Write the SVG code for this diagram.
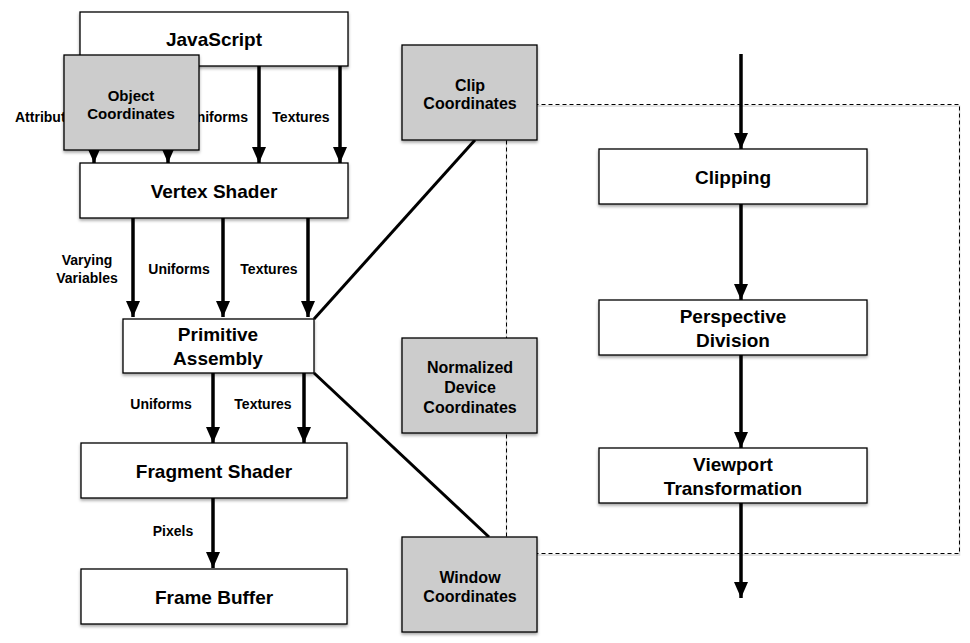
<svg xmlns="http://www.w3.org/2000/svg" width="970" height="643" viewBox="0 0 970 643">
<defs>
<filter id="sh" x="-10%" y="-10%" width="120%" height="130%">
<feDropShadow dx="0" dy="2" stdDeviation="1.5" flood-color="#000" flood-opacity="0.35"/>
</filter>
<marker id="ah" markerUnits="userSpaceOnUse" markerWidth="17" markerHeight="15" refX="16" refY="7" orient="auto">
<path d="M0,0 L16,7 L0,14 z" fill="#000"/>
</marker>
</defs>
<style>
text{font-family:"Liberation Sans",Arial,sans-serif;font-weight:bold;fill:#000;text-anchor:middle;dominant-baseline:central}
.box{fill:#fff;stroke:#000;stroke-width:1.3;filter:url(#sh)}
.gray{fill:#cccccc;stroke:#000;stroke-width:1.3;filter:url(#sh)}
.t{font-size:19px}
.g{font-size:16px}
.l{font-size:14px}
.ar{stroke:#000;stroke-width:3.5;fill:none;marker-end:url(#ah)}
.ln{stroke:#000;stroke-width:3;fill:none}
.dash{fill:none;stroke:#000;stroke-width:1;stroke-dasharray:4,3}
</style>
<rect class="dash" x="506.5" y="104.5" width="453" height="449" style="stroke:#999;stroke-width:1.5;stroke-dasharray:none;opacity:0.35" transform="translate(0,1.5)"/>
<rect class="dash" x="506.5" y="104.5" width="453" height="449"/>
<g id="javascript"><rect class="box" x="80" y="12" width="268" height="54"/><text class="t" x="214" y="39">JavaScript</text></g>
<g id="connectors">
<line class="ar" x1="94" y1="66" x2="94" y2="163"/>
<line class="ar" x1="168" y1="66" x2="168" y2="163"/>
<line class="ar" x1="259" y1="66" x2="259" y2="163"/>
<line class="ar" x1="340" y1="66" x2="340" y2="163"/>
<line class="ar" x1="133" y1="218" x2="133" y2="317"/>
<line class="ar" x1="223" y1="218" x2="223" y2="317"/>
<line class="ar" x1="308" y1="218" x2="308" y2="317"/>
<line class="ar" x1="213" y1="373" x2="213" y2="443"/>
<line class="ar" x1="304" y1="373" x2="304" y2="443"/>
<line class="ar" x1="213" y1="498" x2="213" y2="568"/>
<line class="ln" x1="314" y1="319" x2="475" y2="140"/>
<line class="ln" x1="314" y1="373" x2="489" y2="537"/>
<line class="ar" x1="741" y1="54" x2="741" y2="149"/>
<line class="ar" x1="741" y1="204" x2="741" y2="300"/>
<line class="ar" x1="741" y1="355" x2="741" y2="448"/>
<line class="ar" x1="741" y1="503" x2="741" y2="598"/>
<text class="l" x="15" y="117" style="text-anchor:start">Attributes</text>
<text class="l" x="248" y="117" style="text-anchor:end">Uniforms</text>
<text class="l" x="301" y="117">Textures</text>
<text class="l" x="87" y="260">Varying</text>
<text class="l" x="87" y="278">Variables</text>
<text class="l" x="179" y="269">Uniforms</text>
<text class="l" x="269" y="269">Textures</text>
<text class="l" x="161" y="404">Uniforms</text>
<text class="l" x="263" y="404">Textures</text>
<text class="l" x="173" y="531">Pixels</text>
</g>
<g id="object-coordinates"><rect class="gray" x="64" y="55" width="135" height="95"/><text class="l" style="font-size:15px" x="131" y="95">Object</text><text class="l" style="font-size:15px" x="131" y="113">Coordinates</text></g>
<g id="vertex-shader"><rect class="box" x="80" y="163" width="268" height="55"/><text class="t" x="214" y="191">Vertex Shader</text></g>
<g id="primitive-assembly"><rect class="box" x="123" y="319" width="191" height="54"/><text class="t" x="218" y="334">Primitive</text><text class="t" x="218" y="358">Assembly</text></g>
<g id="fragment-shader"><rect class="box" x="81" y="443" width="266" height="55"/><text class="t" x="214" y="471">Fragment Shader</text></g>
<g id="frame-buffer"><rect class="box" x="81" y="569" width="266" height="55"/><text class="t" x="214" y="597">Frame Buffer</text></g>
<g id="clip-coordinates"><rect class="gray" x="402" y="45" width="135" height="95"/><text class="g" x="470" y="85">Clip</text><text class="g" x="470" y="103">Coordinates</text></g>
<g id="ndc"><rect class="gray" x="402" y="338" width="135" height="95"/><text class="g" x="470" y="367">Normalized</text><text class="g" x="470" y="387">Device</text><text class="g" x="470" y="407">Coordinates</text></g>
<g id="window-coordinates"><rect class="gray" x="402" y="537" width="135" height="95"/><text class="g" x="470" y="577">Window</text><text class="g" x="470" y="596">Coordinates</text></g>
<g id="clipping"><rect class="box" x="599" y="149" width="268" height="55"/><text class="t" x="733" y="177">Clipping</text></g>
<g id="perspective-division"><rect class="box" x="599" y="300" width="268" height="55"/><text class="t" x="733" y="316">Perspective</text><text class="t" x="733" y="340">Division</text></g>
<g id="viewport-transformation"><rect class="box" x="599" y="448" width="268" height="55"/><text class="t" x="733" y="464">Viewport</text><text class="t" x="733" y="488">Transformation</text></g>
</svg>
